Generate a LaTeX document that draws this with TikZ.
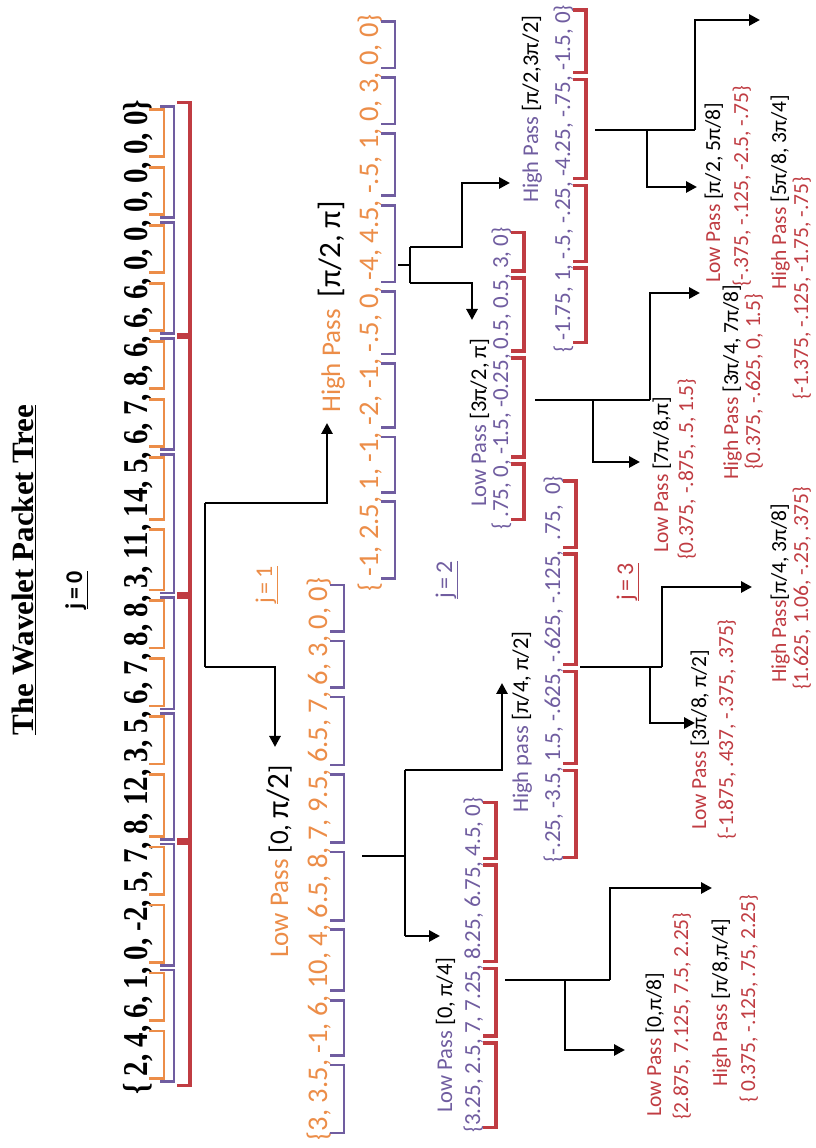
\documentclass[tikz,border=0pt]{standalone}
\usepackage{fontspec}
\setmainfont{Liberation Serif}
\newfontfamily\carl{Carlito}
\usetikzlibrary{arrows.meta,calc}
\definecolor{orng}{RGB}{236,141,72}
\definecolor{purp}{RGB}{112,93,160}
\definecolor{dred}{RGB}{192,60,66}
\newcommand\wsp{\kern\fontdimen2\font}

% chain of value nodes: #1 prefix, #2 style, #3 start, #4 opening text, #5 values
\newcommand\seqchain[5]{%
  \node[#2] (#1o) at (#3) {#4};
  \coordinate (#1e0) at (#1o.base east);
  \foreach \sv [count=\i, evaluate=\i as \j using int(\i-1)] in {#5} {%
    \ifnum\i>1
      \node[#2] (#1s\i) at (#1e\j) {,\wsp};
      \coordinate (#1p\i) at (#1s\i.base east);
    \else
      \coordinate (#1p\i) at (#1e\j);
    \fi
    \node[#2] (#1v\i) at (#1p\i) {\sv};
    \coordinate (#1e\i) at (#1v\i.base east);
    \xdef\seqlast{\i}%
  }%
  \node[#2] (#1c) at (#1e\seqlast) {\}};
}
% brackets under groups: #1 prefix, #2 group size, #3 groups, #4 tick start, #5 depth, #6 ext, #7 style
\newcommand\brackets[7]{%
  \foreach \k in {1,...,#3} {%
    \pgfmathtruncatemacro\ka{(\k-1)*#2+1}%
    \pgfmathtruncatemacro\kb{\k*#2}%
    \draw[#7] ($(#1v\ka.base west)+(-#6,-#4)$) -- ($(#1v\ka.base west)+(-#6,-#5)$)
      -- ($(#1v\kb.base east)+(#6,-#5)$) -- ($(#1v\kb.base east)+(#6,-#4)$);
  }}

\begin{document}
\begin{tikzpicture}[x=1pt,y=1pt,
  conn/.style={line width=2.8pt, black, line join=miter},
  arr/.style={conn, -{Triangle[length=11pt,width=11pt]}},
  seq0/.style={font=\bfseries\fontsize{29}{31}\selectfont, yscale=1.2, inner sep=0pt, outer sep=0pt, anchor=base west},
  seq1/.style={font=\carl\fontsize{28.5}{30}\selectfont, text=orng, inner sep=0pt, outer sep=0pt, anchor=base west},
  seq2/.style={font=\carl\fontsize{23}{25}\selectfont, text=purp, inner sep=0pt, outer sep=0pt, anchor=base west},
  seq3/.style={font=\carl\fontsize{21.5}{24}\selectfont, text=dred, inner sep=0pt, outer sep=0pt, anchor=base west},
  lab1/.style={font=\carl\fontsize{27}{30}\selectfont, inner sep=0pt, anchor=base west},
  lab2/.style={font=\carl\fontsize{22.5}{25}\selectfont, inner sep=0pt, anchor=base west},
  lab3/.style={font=\carl\fontsize{21.5}{24}\selectfont, inner sep=0pt, anchor=base west},
  jlab/.style={font=\carl\fontsize{24}{26}\selectfont, inner sep=0pt, anchor=base},
  brO/.style={orng, line width=2.6pt},
  brP/.style={purp, line width=2.6pt},
  brR/.style={dred, line width=3.4pt},
]
\fill[white] (0,0) rectangle (815,1148);
\useasboundingbox (0,0) rectangle (815,1148);
\begin{scope}[rotate=90, transform shape]
% ---------- title ----------
\node[font=\bfseries\fontsize{31}{33}\selectfont, anchor=base, inner sep=0pt] (title) at (578,-33) {\underline{The Wavelet Packet Tree}};
\node[jlab, font=\carl\bfseries\fontsize{24}{26}\selectfont] (j0) at (558,-82) {\underline{j\,=\,0}};
\node[jlab, text=orng] (j1) at (563,-272) {\underline{j\,=\,1}};
\node[jlab, text=purp] (j2) at (568,-452) {\underline{j\,=\,2}};
\node[jlab, text=dred] (j3) at (566,-633) {\underline{j\,=\,3}};

% ---------- level 0 ----------
\seqchain{m}{seq0}{53,-147}{\{\wsp}{2,4,6,1,0,-2,5,7,8,12,3,5,6,7,8,8,3,11,14,5,6,7,8,6,6,6,0,0,0,0,0,0}
\brackets{m}{2}{16}{2}{17}{2}{brO}
\brackets{m}{4}{8}{13}{27}{5}{brP}
\brackets{m}{8}{4}{30}{43}{9}{brR}

% ---------- level 1 ----------
\node[lab1, anchor=base east] (lab1L) at (383,-288) {\textcolor{orng}{Low Pass} [0, {\fontsize{31}{33}\selectfont π/2}]};
\node[lab1] (lab1H) at (735,-340) {\textcolor{orng}{High Pass}\ \ {\fontsize{31}{33}\selectfont[π/2, π]}};
\seqchain{a}{seq1}{8,-327}{\{}{3,3.5,-1,6,10,4,6.5,8,7,9.5,6.5,7,6,3,0,0}
\seqchain{b}{seq1}{556,-378}{\{\wsp}{-1,2.5,1,-1,-2,-1,-.5,0,-4,4.5,-.5,1,0,3,0,0}
\brackets{a}{2}{8}{3}{17}{2}{brP}
\brackets{b}{2}{8}{3}{17}{2}{brP}

% ---------- level 2 ----------
\node[lab2] (lab2a) at (35,-452) {\textcolor{purp}{Low Pass} [0, π/4]};
\node[lab2] (lab2b) at (335,-528) {\textcolor{purp}{High pass} [π/4, π/2]};
\node[lab2] (lab2c) at (641,-486) {\textcolor{purp}{Low Pass} [3π/2, π]};
\node[lab2] (lab2d) at (945,-538) {\textcolor{purp}{High Pass} [π/2,3π/2]};
\seqchain{c}{seq2}{15,-480}{\{}{3.25,2.5,7,7.25,8.25,6.75,4.5,0}
\seqchain{d}{seq2}{285,-560}{\{}{-.25,-3.5,1.5,-.625,-.625,-.125,\wsp.75,\wsp0}
\seqchain{e}{seq2}{618,-508}{\{\wsp}{.75,0,-1.5,-0.25,0.5,0.5,3,0}
\seqchain{f}{seq2}{795,-570}{\{\wsp}{-1.75,1,-.5,-.25,-4.25,-.75,-1.5,0}
\brackets{c}{2}{4}{3}{16}{2}{brR}
\brackets{d}{2}{4}{3}{16}{2}{brR}
\brackets{e}{2}{4}{3}{16}{2}{brR}
\brackets{f}{2}{4}{3}{16}{2}{brR}

% ---------- level 3 ----------
\node[lab3] (lab3a) at (31,-661) {\textcolor{dred}{Low Pass} [0,π/8]};
\node[seq3] (seq3a) at (28,-688) {\{2.875, 7.125, 7.5, 2.25\}};
\node[lab3] (lab3b) at (61,-727) {\textcolor{dred}{High Pass} [π/8,π/4]};
\node[seq3] (seq3b) at (45,-755) {\{ 0.375, -.125, .75, 2.25\}};
\node[lab3] (lab3c) at (318,-706) {\textcolor{dred}{Low Pass} [3π/8, π/2]};
\node[seq3] (seq3c) at (308,-733) {\{-1.875, .437, -.375, .375\}};
\node[lab3] (lab3d) at (465,-786) {\textcolor{dred}{High Pass}[π/4, 3π/8]};
\node[seq3] (seq3d) at (458,-808) {\{1.625, 1.06, -.25, .375\}};
\node[lab3] (lab3e) at (595,-668) {\textcolor{dred}{Low Pass} [7π/8,π]};
\node[seq3] (seq3e) at (588,-693) {\{0.375, -.875, .5, 1.5\}};
\node[lab3] (lab3f) at (668,-738) {\textcolor{dred}{High Pass} [3π/4, 7π/8]};
\node[seq3] (seq3f) at (678,-760) {\{0.375, -.625, 0, 1.5\}};
\node[lab3] (lab3g) at (865,-720) {\textcolor{dred}{Low Pass} [π/2, 5π/8]};
\node[seq3] (seq3g) at (861,-748) {\{-.375, -.125, -2.5, -.75\}};
\node[lab3] (lab3h) at (858,-786) {\textcolor{dred}{High Pass} [5π/8, 3π/4]};
\node[seq3] (seq3h) at (748,-808) {\{-1.375, -.125, -1.75, -.75\}};

% ---------- connectors ----------
% level 0 -> 1
\coordinate (r0a) at (481,-205); \coordinate (r0b) at (645,-205);
\coordinate (k0a) at (481,-275); \coordinate (t0a) at (401,-275);
\coordinate (k0b) at (645,-327); \coordinate (t0b) at (725,-327);
\draw[conn] (r0a) -- (r0b);
\draw[arr] (r0a) -- (k0a) -- (t0a);
\draw[arr] (r0b) -- (k0b) -- (t0b);
% level 1 low -> 2
\coordinate (s1a) at (292,-362); \coordinate (s1b) at (292,-405);
\coordinate (r1a) at (212,-405); \coordinate (r1b) at (378,-405);
\coordinate (t1a) at (212,-440);
\coordinate (k1b) at (378,-502); \coordinate (t1b) at (465,-502);
\draw[conn] (s1a) -- (s1b);
\draw[conn] (r1a) -- (r1b);
\draw[arr] (r1a) -- (t1a);
\draw[arr] (r1b) -- (k1b) -- (t1b);
% level 1 high -> 2
\coordinate (s2a) at (883,-398); \coordinate (s2b) at (883,-410);
\coordinate (r2a) at (865,-410); \coordinate (r2b) at (901,-410);
\coordinate (k2a) at (865,-472); \coordinate (t2a) at (828,-472);
\coordinate (k2b) at (901,-462); \coordinate (k2c) at (965,-462); \coordinate (t2b) at (965,-510);
\draw[conn] (s2a) -- (s2b);
\draw[conn] (r2a) -- (r2b);
\draw[arr] (r2a) -- (k2a) -- (t2a);
\draw[arr] (r2b) -- (k2b) -- (k2c) -- (t2b);
% level 2a -> 3
\coordinate (s3a) at (168,-505); \coordinate (s3b) at (168,-610); \coordinate (s3m) at (168,-565);
\coordinate (k3a) at (98,-565); \coordinate (t3a) at (98,-625);
\coordinate (k3b) at (260,-610); \coordinate (t3b) at (260,-712);
\draw[conn] (s3a) -- (s3b);
\draw[arr] (s3m) -- (k3a) -- (t3a);
\draw[arr] (s3b) -- (k3b) -- (t3b);
% level 2b -> 3
\coordinate (s4a) at (481,-580); \coordinate (s4b) at (481,-662); \coordinate (s4m) at (481,-650);
\coordinate (k4a) at (425,-650); \coordinate (t4a) at (425,-695);
\coordinate (k4b) at (561,-662); \coordinate (t4b) at (561,-752);
\draw[conn] (s4a) -- (s4b);
\draw[arr] (s4m) -- (k4a) -- (t4a);
\draw[arr] (s4b) -- (k4b) -- (t4b);
% level 2c -> 3
\coordinate (s5a) at (748,-535); \coordinate (s5b) at (748,-650); \coordinate (s5m) at (748,-593);
\coordinate (k5a) at (686,-593); \coordinate (t5a) at (686,-640);
\coordinate (k5b) at (855,-650); \coordinate (t5b) at (855,-700);
\draw[conn] (s5a) -- (s5b);
\draw[arr] (s5m) -- (k5a) -- (t5a);
\draw[arr] (s5b) -- (k5b) -- (t5b);
% level 2d -> 3
\coordinate (s6a) at (1018,-595); \coordinate (s6b) at (1018,-695); \coordinate (s6m) at (1018,-647);
\coordinate (k6a) at (961,-647); \coordinate (t6a) at (961,-697);
\coordinate (k6b) at (1128,-695); \coordinate (t6b) at (1128,-760);
\draw[conn] (s6a) -- (s6b);
\draw[arr] (s6m) -- (k6a) -- (t6a);
\draw[arr] (s6b) -- (k6b) -- (t6b);
\end{scope}
\end{tikzpicture}
\end{document}
